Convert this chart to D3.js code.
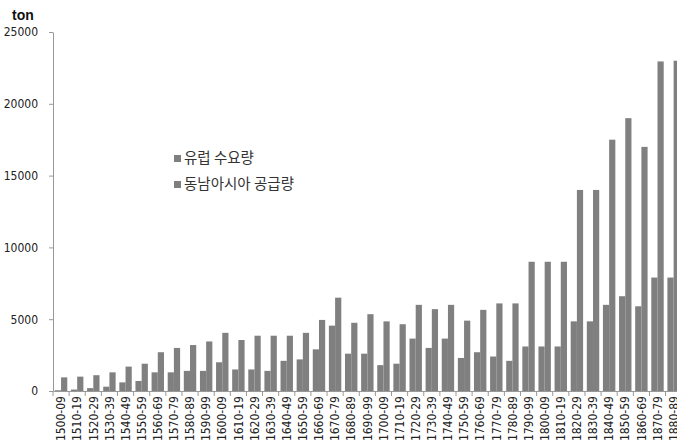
<!DOCTYPE html>
<html><head><meta charset="utf-8">
<script src="https://cdn.jsdelivr.net/npm/d3@7"></script>
<style>
body{margin:0;background:#fff;}
svg{display:block;font-family:"Noto Sans CJK KR","Liberation Sans",sans-serif;}
</style></head>
<body><svg id="c" width="677" height="444"></svg>
<script>
const categories = ["1500-09","1510-19","1520-29","1530-39","1540-49","1550-59","1560-69","1570-79","1580-89","1590-99",
"1600-09","1610-19","1620-29","1630-39","1640-49","1650-59","1660-69","1670-79","1680-89","1690-99",
"1700-09","1710-19","1720-29","1730-39","1740-49","1750-59","1760-69","1770-79","1780-89","1790-99",
"1800-09","1810-19","1820-29","1830-39","1840-49","1850-59","1860-69","1870-79","1880-89"];
const europeDemand = [50,100,200,300,600,700,1300,1300,1400,1400,
2000,1500,1500,1400,2100,2200,2900,4550,2600,2600,
1800,1900,3650,3000,3650,2300,2700,2400,2100,3100,
3100,3100,4850,4850,6000,6600,5900,7900,7900];
const seAsiaSupply = [950,1000,1100,1300,1700,1900,2700,3000,3200,3450,
4050,3550,3850,3850,3850,4050,4950,6500,4750,5350,
4850,4650,6000,5700,6000,4900,5650,6100,6100,9000,
9000,9000,14000,14000,17500,19000,17000,22950,23000];
const seriesNames = ["유럽 수요량","동남아시아 공급량"];
const yTicks = [0,5000,10000,15000,20000,25000];

const svg = d3.select("#c");
const x0 = 53, y0 = 391, yTop = 32;
const step = 16.12;
const x = d3.scaleBand().domain(categories).range([x0, x0 + step*categories.length]).paddingInner(0.23).paddingOuter(0.115);
const y = d3.scaleLinear().domain([0,25000]).range([y0, yTop]);
const color = "#7f7f7f";

const bw = x.bandwidth()/2;
svg.append("g").selectAll("rect.a").data(categories).join("rect")
  .attr("x", d => x(d)).attr("width", bw)
  .attr("y", (d,i) => y(europeDemand[i])).attr("height", (d,i) => y0 - y(europeDemand[i]))
  .attr("fill", color);
svg.append("g").selectAll("rect.b").data(categories).join("rect")
  .attr("x", d => x(d) + bw).attr("width", bw)
  .attr("y", (d,i) => y(seAsiaSupply[i])).attr("height", (d,i) => y0 - y(seAsiaSupply[i]))
  .attr("fill", "#808080");

// y axis
const ya = svg.append("g").attr("transform", `translate(${x0},0)`)
  .call(d3.axisLeft(y).tickValues(yTicks).tickSize(4).tickSizeOuter(0).tickPadding(11).tickFormat(d3.format("d")));
ya.select(".domain").attr("stroke","#999");
ya.selectAll(".tick line").attr("stroke","#999");
ya.selectAll("text").attr("fill","#222").style("font-size","12px").style("font-family","'DejaVu Sans Condensed','Liberation Sans',sans-serif");

// x axis
const xa = svg.append("g").attr("transform", `translate(0,${y0})`)
  .call(d3.axisBottom(x).tickSize(0).tickSizeOuter(0));
xa.select(".domain").attr("stroke","#999");
xa.selectAll(".tick text")
  .attr("transform","rotate(-90)")
  .attr("x",-5).attr("y",0).attr("dy","0.35em")
  .style("text-anchor","end").attr("fill","#222")
  .style("font-size","12px").style("font-family","'DejaVu Sans Condensed','Liberation Sans',sans-serif");
// boundary ticks
svg.append("g").selectAll("line").data(d3.range(categories.length+1)).join("line")
  .attr("x1", i => x0 + i*step).attr("x2", i => x0 + i*step)
  .attr("y1", y0).attr("y2", y0+5).attr("stroke","#999");

// unit label
svg.append("text").attr("x", 12).attr("y", 20).text("ton")
  .style("font-size","14px").style("font-weight","bold").attr("fill","#111")
  .style("font-family","'Liberation Sans',sans-serif");

// legend
const lg = svg.append("g");
seriesNames.forEach((n,i) => {
  lg.append("rect").attr("x",174).attr("y",155 + i*26).attr("width",7).attr("height",7).attr("fill",color);
  lg.append("text").attr("x",184).attr("y",163 + i*26).text(n)
    .style("font-size","14.5px").attr("fill","#333");
});
</script></body></html>
